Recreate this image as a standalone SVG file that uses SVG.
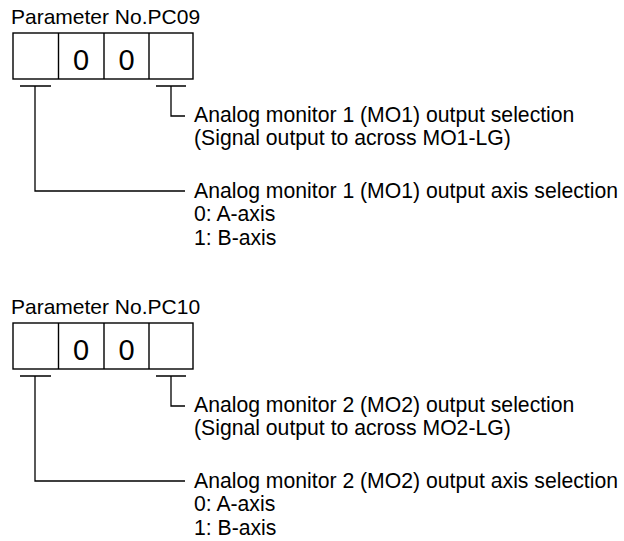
<svg xmlns="http://www.w3.org/2000/svg" width="624" height="541" viewBox="0 0 624 541">
<style>
text{font-family:"Liberation Sans",Arial,sans-serif;fill:#000}
.h{font-size:21px}
.t{font-size:21.2px}
.d{font-size:29px;text-anchor:middle}
.box{fill:none;stroke:#000;stroke-width:1.4}
.ln{fill:none;stroke:#000;stroke-width:1.3}
</style>
<rect width="624" height="541" fill="#fff"/>
<g id="pc09">
  <g id="pc09-param">
    <text class="h" x="11" y="24">Parameter No.PC09</text>
    <rect class="box" x="13" y="33" width="180" height="46"/>
    <path class="box" d="M58.5 33V79M104 33V79M149 33V79"/>
    <text class="d" x="81" y="70">0</text>
    <text class="d" x="126.5" y="70">0</text>
  </g>
  <g id="pc09-connectors">
    <path class="ln" d="M20 86H51M35 86V191H185"/>
    <path class="ln" d="M156 86H186M171 86V116H185"/>
  </g>
  <g id="pc09-output">
    <text class="t" x="194" y="122">Analog monitor 1 (MO1) output selection</text>
    <text class="t" x="194" y="145">(Signal output to across MO1-LG)</text>
  </g>
  <g id="pc09-axis">
    <text class="t" x="194" y="197.5">Analog monitor 1 (MO1) output axis selection</text>
    <text class="t" x="194" y="221">0: A-axis</text>
    <text class="t" x="194" y="244.5">1: B-axis</text>
  </g>
</g>
<g id="pc10" transform="translate(0,290)">
  <g id="pc10-param">
    <text class="h" x="11" y="24">Parameter No.PC10</text>
    <rect class="box" x="13" y="33" width="180" height="46"/>
    <path class="box" d="M58.5 33V79M104 33V79M149 33V79"/>
    <text class="d" x="81" y="70">0</text>
    <text class="d" x="126.5" y="70">0</text>
  </g>
  <g id="pc10-connectors">
    <path class="ln" d="M20 86H51M35 86V191H185"/>
    <path class="ln" d="M156 86H186M171 86V116H185"/>
  </g>
  <g id="pc10-output">
    <text class="t" x="194" y="122">Analog monitor 2 (MO2) output selection</text>
    <text class="t" x="194" y="145">(Signal output to across MO2-LG)</text>
  </g>
  <g id="pc10-axis">
    <text class="t" x="194" y="197.5">Analog monitor 2 (MO2) output axis selection</text>
    <text class="t" x="194" y="221">0: A-axis</text>
    <text class="t" x="194" y="244.5">1: B-axis</text>
  </g>
</g>
</svg>
